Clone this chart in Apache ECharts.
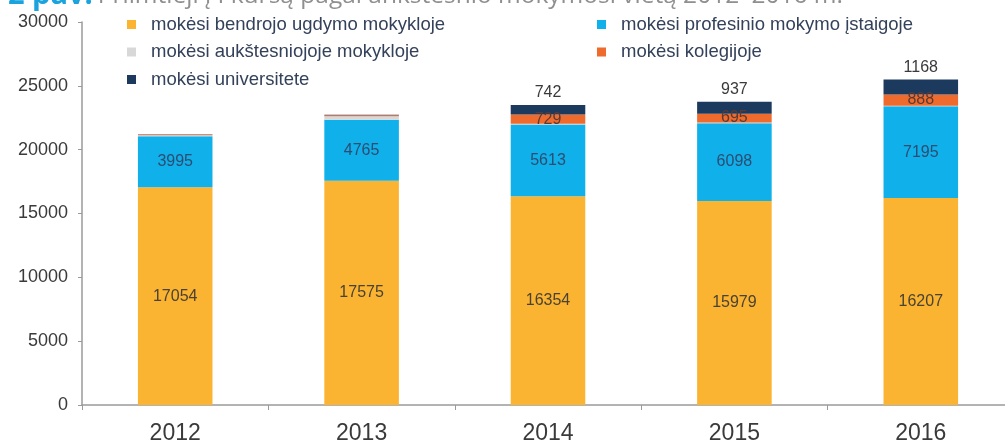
<!DOCTYPE html>
<html>
<head>
<meta charset="utf-8">
<script src="https://cdn.jsdelivr.net/npm/echarts@6/dist/echarts.min.js"></script>
<style>
  html, body { margin: 0; padding: 0; background: #ffffff; }
  #chart { width: 1005px; height: 441px; }
</style>
</head>
<body>
<div id="chart"></div>
<script>
// Admissions to the first year by previous place of study, 2012–2016
const years = ['2012', '2013', '2014', '2015', '2016'];
const seriesNames = [
  'mokėsi bendrojo ugdymo mokykloje',
  'mokėsi profesinio mokymo įstaigoje',
  'mokėsi aukštesniojoje mokykloje',
  'mokėsi kolegijoje',
  'mokėsi universitete'
];
const generalSchool = [17054, 17575, 16354, 15979, 16207];
const vocational = [3995, 4765, 5613, 6098, 7195];
const higherSchool = [90, 280, 60, 50, 40];
const college = [40, 80, 729, 695, 888];
const university = [30, 40, 742, 937, 1168];
const yTicks = [0, 5000, 10000, 15000, 20000, 25000, 30000];

const colors = ['#FBB332', '#10B0EA', '#D8D8D8', '#EF6A2D', '#1C3A5E'];
const labelFont = 'Liberation Sans, Arial, sans-serif';

// small segments are only labelled where they are wide enough
const bigOnly = p => (p.value >= 500 ? String(p.value) : '');

function stackSeries(name, data, color, label) {
  return {
    name: name,
    type: 'bar',
    stack: 'total',
    data: data,
    barWidth: '40%',
    itemStyle: { color: color },
    label: label,
    emphasis: { disabled: true }
  };
}

const legendText = {
  fontFamily: labelFont, fontSize: 18.5, color: '#33415a', lineHeight: 18, padding: [0, 0, 0, 10]
};

const chart = echarts.init(document.getElementById('chart'), null, { renderer: 'canvas' });
chart.setOption({
  animation: false,
  title: {
    left: 3,
    top: -25,
    text: '{a|2 pav.} {b|Priimtieji į I kursą pagal ankstesnio mokymosi vietą 2012–2016 m.}',
    textStyle: {
      fontWeight: 'normal',
      rich: {
        a: { fontFamily: 'Open Sans, sans-serif', fontSize: 29, lineHeight: 32, fontWeight: 'bold', color: '#1BA3DD', verticalAlign: 'middle' },
        b: { fontFamily: 'Open Sans, sans-serif', fontSize: 24.5, lineHeight: 32, fontWeight: 'normal', color: '#8f8f8f', verticalAlign: 'middle' }
      }
    }
  },
  legend: [
    {
      data: [seriesNames[0], seriesNames[2], seriesNames[4]],
      orient: 'vertical',
      left: 122,
      top: 10,
      itemWidth: 9,
      itemHeight: 9,
      itemGap: 8.5,
      icon: 'rect',
      textStyle: legendText
    },
    {
      data: [seriesNames[1], seriesNames[3]],
      orient: 'vertical',
      left: 592,
      top: 10,
      itemWidth: 9,
      itemHeight: 9,
      itemGap: 8.5,
      icon: 'rect',
      textStyle: legendText
    }
  ],
  grid: { left: 82, top: 22, width: 932, bottom: 36, containLabel: false, outerBoundsMode: 'none' },
  xAxis: {
    type: 'category',
    data: years,
    axisLine: { lineStyle: { color: '#9a9a9a', width: 1.5 } },
    axisTick: { show: true, length: 5, lineStyle: { color: '#9a9a9a' } },
    axisLabel: { fontFamily: labelFont, fontSize: 23, color: '#3a3a3a', margin: 17 }
  },
  yAxis: {
    type: 'value',
    min: yTicks[0],
    max: yTicks[yTicks.length - 1],
    interval: yTicks[1] - yTicks[0],
    axisLine: { show: true, lineStyle: { color: '#9a9a9a', width: 1.5 } },
    axisTick: { show: true, length: 4, lineStyle: { color: '#9a9a9a' } },
    splitLine: { show: false },
    axisLabel: {
      fontFamily: labelFont, fontSize: 18, color: '#3a3a3a', margin: 14,
      formatter: v => String(v)
    }
  },
  series: [
    stackSeries(seriesNames[0], generalSchool, colors[0], {
      show: true, position: 'inside', fontFamily: labelFont, fontSize: 16, color: '#4a4232'
    }),
    stackSeries(seriesNames[1], vocational, colors[1], {
      show: true, position: 'inside', fontFamily: labelFont, fontSize: 16, color: '#2d4d72'
    }),
    stackSeries(seriesNames[2], higherSchool, colors[2], { show: false }),
    stackSeries(seriesNames[3], college, colors[3], {
      show: true, position: 'inside', fontFamily: labelFont, fontSize: 16, color: '#5a3a32', formatter: bigOnly
    }),
    stackSeries(seriesNames[4], university, colors[4], {
      show: true, position: 'top', distance: 4, fontFamily: labelFont, fontSize: 16, color: '#3a3a3a', formatter: bigOnly
    })
  ]
});
</script>
</body>
</html>
